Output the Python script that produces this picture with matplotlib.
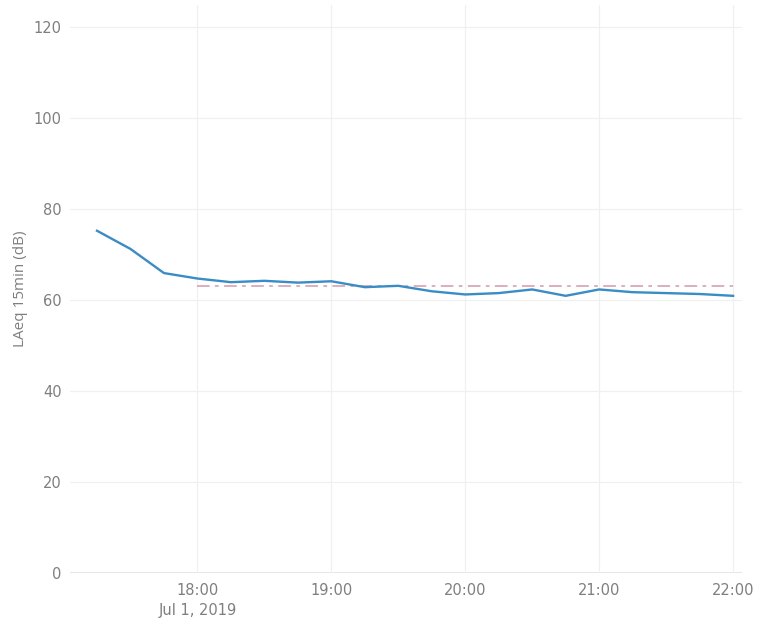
import matplotlib
matplotlib.use("Agg")
import matplotlib.pyplot as plt
import pandas as pd

plt.rcParams["font.family"] = ["DejaVu Sans"]

times = pd.date_range("2019-07-01 17:15", "2019-07-01 22:00", freq="15min")
laeq = [75.2, 71.2, 65.9, 64.7, 63.9, 64.2, 63.8, 64.1, 62.8, 63.1, 61.9, 61.2,
        61.5, 62.3, 60.9, 62.3, 61.7, 61.5, 61.3, 60.9]
limit_times = pd.to_datetime(["2019-07-01 18:00", "2019-07-01 22:00"])
limit_vals = [63, 63]
tick_times = pd.date_range("2019-07-01 18:00", "2019-07-01 22:00", freq="1h")
tick_labels = ["18:00\nJul 1, 2019", "19:00", "20:00", "21:00", "22:00"]
yticks = [0, 20, 40, 60, 80, 100, 120]

fig = plt.figure(figsize=(7.65, 6.27), dpi=100)
ax = fig.add_axes([70/765, 1-573/627, 672/765, 568/627])
txt = "#7f7f7f"
ax.plot(times, laeq, color="#3a8cc6", lw=1.7, zorder=3)
ax.plot(limit_times, limit_vals, color="#d9a8bb", lw=1.3, dashes=(7, 3, 2, 3), zorder=2)

x0 = pd.Timestamp("2019-07-01 17:15") - pd.Timedelta(minutes=12.1)
x1 = pd.Timestamp("2019-07-01 22:00") + pd.Timedelta(minutes=4)
ax.set_xlim(x0, x1)
ax.set_ylim(0, 124.8)
ax.set_xticks(tick_times)
ax.set_xticklabels(tick_labels, linespacing=1.45)
ax.set_yticks(yticks)
ax.set_yticklabels([str(v) for v in yticks])
ax.grid(True, color="#f0f0f0", lw=0.9)
ax.axhline(0, color="#e2e2e2", lw=1.2, zorder=1)
for s in ax.spines.values():
    s.set_visible(False)
ax.tick_params(length=0, colors=txt, labelsize=10.5)
ax.tick_params(axis="x", pad=7)
ax.tick_params(axis="y", pad=6)
ax.set_ylabel("LAeq 15min (dB)", color=txt, fontsize=11, family="Open Sans", labelpad=4)
fig.savefig("out.png", dpi=100)
